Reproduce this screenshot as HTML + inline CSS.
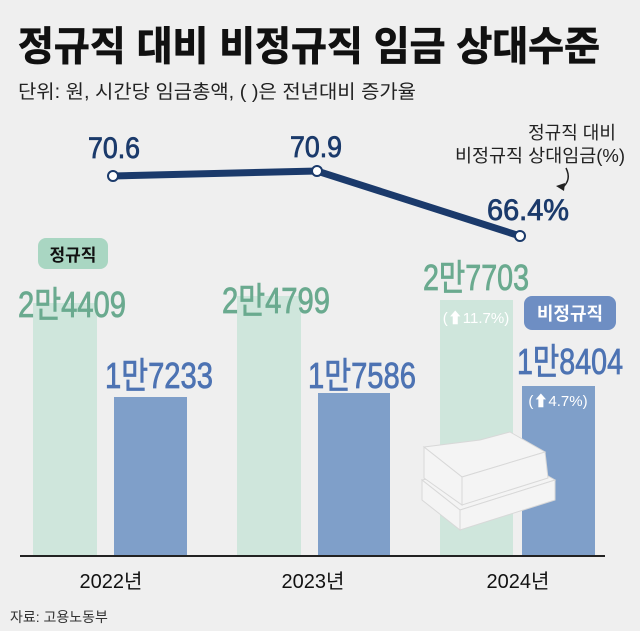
<!DOCTYPE html>
<html><head><meta charset="utf-8"><style>
body{margin:0;background:#efefef;}
svg{display:block}
text{font-family:"Liberation Sans","Noto Sans CJK KR",sans-serif;}
</style></head><body>
<svg width="640" height="631" viewBox="0 0 640 631">
<rect width="640" height="631" fill="#efefef"/>
<text x="18" y="60" font-size="40" font-weight="bold" fill="#111" stroke="#111" stroke-width="0.8" textLength="582" lengthAdjust="spacingAndGlyphs">정규직 대비 비정규직 임금 상대수준</text>
<text x="18" y="98" font-size="19" fill="#222" textLength="398" lengthAdjust="spacingAndGlyphs">단위: 원, 시간당 임금총액, ( )은 전년대비 증가율</text>
<text x="572" y="139" font-size="18" fill="#222" text-anchor="middle">정규직 대비</text>
<text x="540" y="162" font-size="18" fill="#222" text-anchor="middle" textLength="170" lengthAdjust="spacingAndGlyphs">비정규직 상대임금(%)</text>
<path d="M566 168 Q572 180 562 188" stroke="#222" stroke-width="1.5" fill="none"/>
<path d="M556 186 L564 191 L565 183 Z" fill="#222"/>
<rect x="33" y="303" width="64" height="253" fill="#cfe6dc"/>
<rect x="114" y="397" width="73" height="159" fill="#7f9fc9"/>
<rect x="237" y="296" width="64" height="260" fill="#cfe6dc"/>
<rect x="318" y="393" width="72" height="163" fill="#7f9fc9"/>
<rect x="440" y="300" width="73" height="256" fill="#cfe6dc"/>
<rect x="522" y="386" width="73" height="170" fill="#7f9fc9"/>
<line x1="20" y1="556" x2="605" y2="556" stroke="#222" stroke-width="2"/>
<g fill="#f4f4f4" stroke="#d8d8d8" stroke-width="1">
<polygon points="422,480 460,510 555,480 520,460"/>
<polygon points="422,480 460,510 460,530 422,500"/>
<polygon points="460,510 555,480 555,500 460,530"/>
<polygon points="424,447 462,477 545,452 510,432 480,440"/>
<polygon points="424,447 462,477 462,505 424,478"/>
<polygon points="462,477 545,452 548,478 462,505"/>
</g>
<g font-size="36">
<text x="18" y="317" fill="#6aaa8f" stroke="#6aaa8f" stroke-width="0.8" textLength="108" lengthAdjust="spacingAndGlyphs">2만4409</text>
<text x="105" y="388" fill="#4d73b3" stroke="#4d73b3" stroke-width="0.8" textLength="108" lengthAdjust="spacingAndGlyphs">1만7233</text>
<text x="222" y="313" fill="#6aaa8f" stroke="#6aaa8f" stroke-width="0.8" textLength="108" lengthAdjust="spacingAndGlyphs">2만4799</text>
<text x="308" y="388" fill="#4d73b3" stroke="#4d73b3" stroke-width="0.8" textLength="108" lengthAdjust="spacingAndGlyphs">1만7586</text>
<text x="423" y="290" fill="#6aaa8f" stroke="#6aaa8f" stroke-width="0.8" textLength="106" lengthAdjust="spacingAndGlyphs">2만7703</text>
<text x="517" y="374" fill="#4d73b3" stroke="#4d73b3" stroke-width="0.8" textLength="106" lengthAdjust="spacingAndGlyphs">1만8404</text>
</g>
<text x="476" y="323" font-size="15" fill="#fff" text-anchor="middle">(⬆11.7%)</text>
<text x="558" y="406" font-size="15" fill="#fff" text-anchor="middle">(⬆4.7%)</text>
<rect x="38" y="238" width="70" height="31" rx="8" fill="#a9d6c2"/>
<text x="73" y="261" font-size="17" font-weight="bold" fill="#111" text-anchor="middle">정규직</text>
<rect x="524" y="296" width="92" height="34" rx="8" fill="#6e8ec3"/>
<text x="570" y="320" font-size="18" font-weight="bold" fill="#fff" text-anchor="middle">비정규직</text>
<polyline points="113,176 317,171 520,236" fill="none" stroke="#1b3a6b" stroke-width="7"/>
<g fill="#fff" stroke="#1b3a6b" stroke-width="2">
<circle cx="113" cy="176" r="5"/><circle cx="317" cy="171" r="5"/><circle cx="520" cy="236" r="5"/>
</g>
<g font-size="30" fill="#1b3a6b" stroke="#1b3a6b" stroke-width="0.8">
<text x="88" y="158" textLength="52" lengthAdjust="spacingAndGlyphs">70.6</text>
<text x="290" y="157" textLength="52" lengthAdjust="spacingAndGlyphs">70.9</text>
<text x="487" y="220" textLength="82" lengthAdjust="spacingAndGlyphs">66.4%</text>
</g>
<g font-size="20" fill="#111" text-anchor="middle">
<text x="111" y="588">2022년</text>
<text x="313" y="588">2023년</text>
<text x="518" y="588">2024년</text>
</g>
<text x="10" y="622" font-size="14" fill="#333">자료: 고용노동부</text>
</svg>
</body></html>
